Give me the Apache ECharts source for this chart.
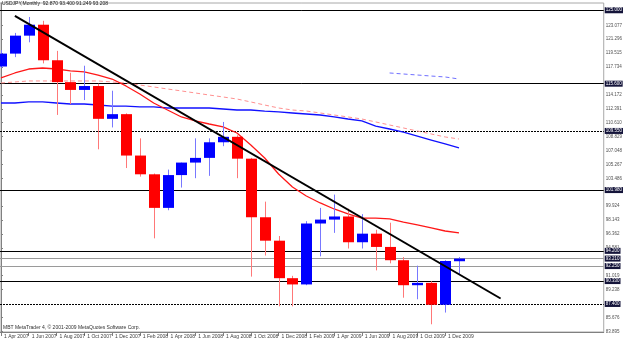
<!DOCTYPE html>
<html>
<head>
<meta charset="utf-8">
<script src="https://cdn.jsdelivr.net/npm/echarts@6/dist/echarts.min.js"></script>
<style>html,body{margin:0;padding:0;background:#fff}#c{width:625px;height:340px}</style>
</head>
<body>
<div id="c"></div>
<script>
// ---- data ----
var months = ['1 Apr 2007','1 May 2007','1 Jun 2007','1 Jul 2007','1 Aug 2007','1 Sep 2007','1 Oct 2007','1 Nov 2007','1 Dec 2007',
  '1 Jan 2008','1 Feb 2008','1 Mar 2008','1 Apr 2008','1 May 2008','1 Jun 2008','1 Jul 2008','1 Aug 2008','1 Sep 2008','1 Oct 2008','1 Nov 2008','1 Dec 2008',
  '1 Jan 2009','1 Feb 2009','1 Mar 2009','1 Apr 2009','1 May 2009','1 Jun 2009','1 Jul 2009','1 Aug 2009','1 Sep 2009','1 Oct 2009','1 Nov 2009','1 Dec 2009','1 Jan 2010'];
var xTickIdx = [0,2,4,6,8,10,12,14,16,18,20,22,24,26,28,30,32];
var opens  = [117.80,119.45,121.75,123.15,118.60,115.80,114.80,115.30,111.10,111.70,106.40,104.00,99.70,103.90,105.50,106.10,108.10,108.80,106.00,98.50,95.50,90.70,89.90,97.70,98.20,98.60,95.30,96.40,94.70,93.00,89.80,90.10,87.30,92.87];
var highs  = [119.90,122.10,124.14,123.65,119.80,117.00,117.90,115.60,114.70,111.80,108.60,104.10,104.60,105.50,108.60,108.60,110.70,109.00,106.10,100.50,96.10,91.00,98.00,99.70,101.40,99.60,98.90,96.90,97.80,93.40,92.30,90.30,93.00,93.40];
var lows   = [117.60,119.00,120.90,118.20,111.60,113.00,113.50,107.20,110.00,104.80,103.70,95.80,99.40,102.30,103.50,103.80,107.60,103.50,90.90,93.60,87.10,87.10,89.80,93.50,96.50,94.50,94.50,91.70,92.60,88.20,88.00,84.80,86.30,91.249];
var closes = [119.45,121.75,123.15,118.60,115.80,114.80,115.30,111.10,111.70,106.40,104.00,99.70,103.90,105.50,106.10,108.10,108.80,106.00,98.50,95.50,90.70,89.90,97.70,98.20,98.60,95.30,96.40,94.70,93.00,89.80,90.10,87.30,92.90,93.208];
var maRed = [116.33,116.97,117.48,117.61,117.48,117.23,117.10,116.71,116.20,115.31,114.28,113.13,112.23,111.34,110.83,110.44,110.06,109.29,107.75,106.09,104.04,102.37,101.22,100.33,99.56,98.92,98.40,98.40,98.28,97.89,97.51,97.13,96.74,96.49];
var maRedDashed = [115.69,115.82,115.95,115.95,115.95,115.95,115.95,115.95,115.82,115.69,115.43,115.18,114.92,114.67,114.41,114.15,113.90,113.64,113.26,112.87,112.49,112.23,112.10,111.85,111.59,111.34,111.08,110.70,110.31,109.93,109.54,109.16,108.78,108.52];
var maBlue = [113.13,113.13,113.26,113.26,113.13,113.00,113.00,112.87,112.74,112.74,112.62,112.62,112.49,112.49,112.49,112.49,112.36,112.23,112.23,112.10,111.98,111.85,111.72,111.59,111.34,111.08,110.83,110.18,109.80,109.41,108.90,108.39,107.88,107.37];
var maBlueDashedStart = 28;
var maBlueDashed = [116.97,116.84,116.71,116.58,116.46,116.20];
var trendIdx = [1, 36];
var trendVal = [124.27, 88.10];
var levelsBlack = [125.000, 115.600, 101.980, 94.200, 90.330];
var levelsDotted = [109.550, 87.400];
var levelsGrey = [93.208, 92.250];
var yTickLabels = [123.077,121.296,119.515,117.734,114.172,112.391,110.610,108.829,107.048,105.267,103.486,99.924,98.143,96.362,94.581,91.019,89.238,85.676,83.895];
var titleText = 'USDJPY,Monthly  92.870 93.400 91.249 93.208';
var footerText = 'MBT MetaTrader 4, \u00a9 2001-2009 MetaQuotes Software Corp.';

// ---- build ----
var FONT = "'Liberation Sans Narrow','Liberation Sans',Arial,sans-serif";
var candleData = opens.map(function (o, i) { return [i, o, highs[i], lows[i], closes[i]]; });
function pairs(arr, start) { return arr.map(function (v, i) { return [i + (start || 0), v]; }); }

function renderCandle(params, api) {
  var i = api.value(0), o = api.value(1), h = api.value(2), l = api.value(3), c = api.value(4);
  var pO = api.coord([i, o]), pC = api.coord([i, c]), pH = api.coord([i, h]), pL = api.coord([i, l]);
  var w = Math.round(api.size([1, 0])[0] * 0.78);
  var up = c >= o;
  var x = Math.round(pO[0]);
  var top = Math.min(pO[1], pC[1]), bot = Math.max(pO[1], pC[1]);
  return {
    type: 'group',
    children: [
      { type: 'line', shape: { x1: x + 0.5, y1: pH[1], x2: x + 0.5, y2: pL[1] },
        style: { stroke: up ? '#7878ff' : '#ff7878', lineWidth: 1 } },
      { type: 'rect', shape: { x: x - Math.floor(w / 2), y: top, width: w, height: Math.max(bot - top, 1) },
        style: { fill: up ? '#0000ff' : '#ff0000' } }
    ]
  };
}

function lvl(v, color, type) {
  return { yAxis: v, lineStyle: { color: color, width: 1, type: type },
    label: { backgroundColor: '#14143a', color: '#ffffff' } };
}
var markData = [];
levelsBlack.forEach(function (v) { markData.push(lvl(v, '#000000', 'solid')); });
levelsDotted.forEach(function (v) { markData.push(lvl(v, '#000000', [2, 1])); });
levelsGrey.forEach(function (v) { markData.push(lvl(v, '#9a9a9a', 'solid')); });

var chart = echarts.init(document.getElementById('c'), null, { renderer: 'canvas' });
chart.setOption({
  animation: false,
  backgroundColor: '#ffffff',
  textStyle: { fontFamily: FONT },
  title: [
    { text: titleText, left: 2, top: 1, padding: 0,
      textStyle: { fontSize: 5, fontWeight: 'normal', color: '#202020', fontFamily: FONT } },
    { text: footerText, left: 3, top: 325, padding: 0,
      textStyle: { fontSize: 5, fontWeight: 'normal', color: '#303030', fontFamily: FONT } }
  ],
  grid: { left: 0, right: 16, top: 3, bottom: 8, show: true, borderColor: '#a8a8a8', borderWidth: 1 },
  xAxis: {
    type: 'value', min: -1 / 14, max: -1 / 14 + 609 / 14,
    splitLine: { show: false },
    axisLine: { show: true, lineStyle: { color: '#808080' } },
    axisTick: { show: true, customValues: xTickIdx, length: 4, lineStyle: { color: '#808080' } },
    axisLabel: { customValues: xTickIdx, formatter: function (v) { return months[Math.round(v)] || ''; },
      align: 'left', margin: 2, padding: [0, 0, 0, 3], fontSize: 5, color: '#404040', fontFamily: FONT }
  },
  yAxis: {
    type: 'value', position: 'right', min: 83.81, max: 125.93, scale: true,
    splitLine: { show: false },
    axisLine: { show: true, lineStyle: { color: '#808080' } },
    axisTick: { show: true, customValues: yTickLabels, length: 2, lineStyle: { color: '#808080' } },
    axisLabel: { customValues: yTickLabels, formatter: function (v) { return v.toFixed(3); },
      margin: 2, fontSize: 4.5, color: '#505050', fontFamily: FONT }
  },
  series: [
    { type: 'line', name: 'maRedDashed', data: pairs(maRedDashed), showSymbol: false, z: 2,
      lineStyle: { color: '#ff9090', width: 1, type: [4, 3] } },
    { type: 'line', name: 'maBlueDashed', data: pairs(maBlueDashed, maBlueDashedStart), showSymbol: false, z: 2,
      lineStyle: { color: '#7070ff', width: 1, type: [4, 3] } },
    { type: 'line', name: 'maBlue', data: pairs(maBlue), showSymbol: false, z: 2,
      lineStyle: { color: '#1010ff', width: 1.3 } },
    { type: 'line', name: 'maRed', data: pairs(maRed), showSymbol: false, z: 2,
      lineStyle: { color: '#ff1818', width: 1.3 } },
    { type: 'custom', name: 'USDJPY', renderItem: renderCandle, data: candleData, z: 3,
      encode: { x: 0, y: [1, 2, 3, 4] } },
    { type: 'line', name: 'trend', data: trendIdx.map(function (x, k) { return [x, trendVal[k]]; }),
      showSymbol: false, z: 4, lineStyle: { color: '#000000', width: 2 },
      markLine: { silent: true, symbol: ['none', 'none'], animation: false, z: 1,
        label: { show: true, position: 'end', distance: 1, formatter: function (p) { return p.value.toFixed(3); },
          fontSize: 4.5, padding: [1, 1, 0, 1], fontFamily: FONT },
        data: markData } }
  ]
});
</script>
</body>
</html>
